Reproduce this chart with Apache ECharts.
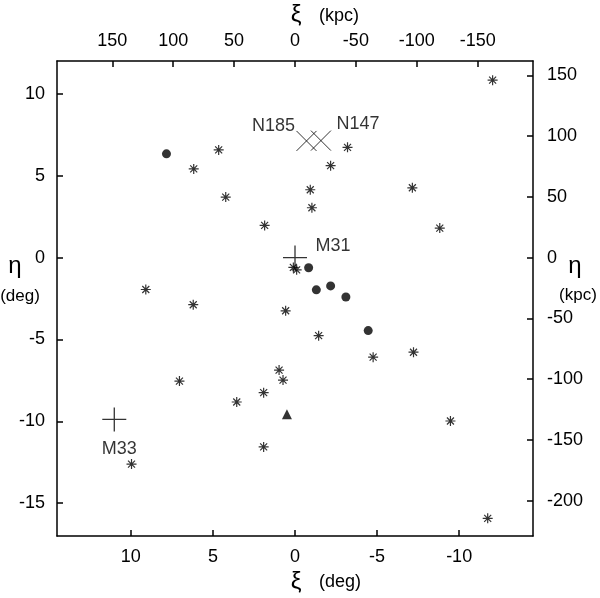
<!DOCTYPE html>
<html>
<head>
<meta charset="utf-8">
<script src="https://cdn.jsdelivr.net/npm/echarts@6/dist/echarts.min.js"></script>
<style>
  html, body { margin: 0; padding: 0; background: #fff; }
  #chart { width: 600px; height: 598px; }
</style>
</head>
<body>
<div id="chart"></div>
<script>
// ── 資料（ξ, η 單位：度） ──────────────────────────────
var asterisks = [
  [4.65, 6.57], [6.17, 5.41], [4.22, 3.69], [1.85, 1.96], [9.09, -1.95],
  [0.10, -0.60], [-0.10, -0.75], [-12.04, 10.83], [-3.20, 6.73], [-2.17, 5.61],
  [-0.93, 4.14], [-1.03, 3.04], [-7.15, 4.26], [-8.82, 1.80], [6.20, -2.88],
  [0.57, -3.25], [7.04, -7.54], [0.97, -6.87], [0.73, -7.48], [1.91, -8.25],
  [3.55, -8.82], [1.91, -11.56], [9.96, -12.61], [-1.44, -4.77], [-4.76, -6.08],
  [-7.22, -5.78], [-9.47, -9.98], [-11.74, -15.92]
];
var dots = [[7.83, 6.33], [-0.83, -0.62], [-1.30, -1.97], [-2.17, -1.73], [-3.10, -2.41], [-4.46, -4.46]];
var triangles = [[0.49, -9.57]];
var bigCross = [{ name: "M31", value: [0, 0] }, { name: "M33", value: [11.01, -9.88] }];
var xMarks = [{ name: "N185", value: [-0.70, 7.12] }, { name: "N147", value: [-1.58, 7.14] }];

var degXTicks = [10, 5, 0, -5, -10];
var degYTicks = [10, 5, 0, -5, -10, -15];
var kpcXTicks = [150, 100, 50, 0, -50, -100, -150];
var kpcYTicks = [150, 100, 50, 0, -50, -100, -150, -200];
var KPC_PER_DEG = 13.48;
var XI_RANGE = [-14.5, 14.5], ETA_RANGE = [-17, 12];

// ── 樣式 ──────────────────────────────
var FONT = "'Liberation Sans', Arial, Helvetica, sans-serif";
var INK = "#000";

function axis(pos, min, max, ticks, inverse, margin) {
  return {
    type: "value", position: pos, min: min, max: max, inverse: !!inverse,
    splitLine: { show: false },
    axisLine: { show: true, onZero: false, lineStyle: { color: INK, width: 1.5 } },
    axisTick: { show: true, inside: true, length: 6, customValues: ticks, lineStyle: { color: INK, width: 1.5 } },
    axisLabel: { customValues: ticks, fontSize: 18, fontFamily: FONT, color: INK, margin: margin }
  };
}

var labelOffsets = { M31: [38, -12], M33: [5, 30], N185: [-33, -15], N147: [37, -17] };
function withLabels(arr) {
  return arr.map(function (d) {
    return {
      value: d.value,
      label: { show: true, formatter: d.name, position: "inside", offset: labelOffsets[d.name],
               fontSize: 18, fontFamily: FONT, color: INK }
    };
  });
}

function titleText(x, y, text, size, align) {
  return { type: "text", x: x, y: y, silent: true,
           style: { text: text, fontSize: size, fontFamily: FONT, fill: INK, align: align || "center", verticalAlign: "middle" } };
}

var chart = echarts.init(document.getElementById("chart"), null, { renderer: "canvas" });
chart.setOption({
  animation: false,
  grid: { left: 57, right: 67, top: 61, bottom: 62 },
  xAxis: [
    axis("bottom", XI_RANGE[0], XI_RANGE[1], degXTicks, true, 12),
    axis("top", XI_RANGE[0] * KPC_PER_DEG, XI_RANGE[1] * KPC_PER_DEG, kpcXTicks, true, 11)
  ],
  yAxis: [
    axis("left", ETA_RANGE[0], ETA_RANGE[1], degYTicks, false, 12),
    axis("right", ETA_RANGE[0] * KPC_PER_DEG, ETA_RANGE[1] * KPC_PER_DEG, kpcYTicks, false, 14)
  ],
  graphic: [
    titleText(296, 582, "ξ", 24), titleText(319, 582, "(deg)", 18, "left"),
    titleText(296, 15, "ξ", 24), titleText(319, 16, "(kpc)", 18, "left"),
    titleText(15, 266, "η", 24), titleText(20, 296, "(deg)", 17),
    titleText(575, 266, "η", 24), titleText(578, 295, "(kpc)", 17)
  ],
  series: [
    { type: "scatter", data: asterisks, symbol: "path://M5,0L5,10M0,5L10,5M1.5,1.5L8.5,8.5M1.5,8.5L8.5,1.5",
      symbolSize: 10, itemStyle: { color: "none", borderColor: "#000", borderWidth: 1.2 } },
    { type: "scatter", data: dots, symbol: "circle", symbolSize: 9, itemStyle: { color: "#000" } },
    { type: "scatter", data: triangles, symbol: "triangle", symbolSize: 10, itemStyle: { color: "#000" } },
    { type: "scatter", data: withLabels(bigCross), symbol: "path://M12,0L12,24M0,12L24,12",
      symbolSize: 24, itemStyle: { color: "none", borderColor: INK, borderWidth: 1.3 } },
    { type: "scatter", data: withLabels(xMarks), symbol: "path://M0,0L20,20M0,20L20,0",
      symbolSize: 20, itemStyle: { color: "none", borderColor: INK, borderWidth: 1 } }
  ]
});
</script>
</body>
</html>
